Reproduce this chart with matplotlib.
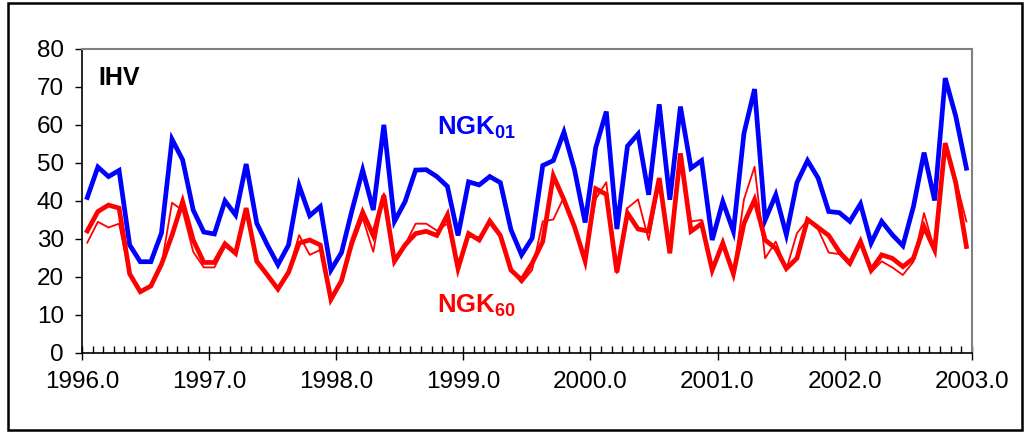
import numpy as np
import matplotlib
matplotlib.use('Agg')
import matplotlib.pyplot as plt
from matplotlib.ticker import MultipleLocator
from matplotlib.patches import Rectangle

plt.rcParams['font.family'] = 'Liberation Sans'
plt.rcParams['mathtext.fontset'] = 'custom'
plt.rcParams['mathtext.rm'] = 'Liberation Sans:bold'
plt.rcParams['mathtext.bf'] = 'Liberation Sans:bold'

# monthly values, Jan 1996 - Dec 2002
ngk01 = [40.9, 48.9, 46.4, 48.0, 28.4, 24.0, 24.0, 31.5, 56.2, 50.8, 37.6, 31.8,
         31.3, 40.0, 36.3, 49.7, 34.1, 28.4, 23.2, 28.4, 44.0, 36.1, 38.5, 21.8,
         26.4, 37.6, 48.1, 37.6, 60.0, 34.6, 39.8, 48.1, 48.2, 46.4, 43.8, 30.9,
         45.0, 44.2, 46.4, 44.8, 32.4, 25.8, 30.2, 49.3, 50.6, 58.1, 48.2, 34.3,
         54.0, 63.5, 32.6, 54.4, 57.6, 41.6, 65.4, 40.3, 64.8, 48.6, 50.6, 29.7,
         39.8, 32.0, 57.8, 69.4, 35.0, 41.6, 31.1, 44.8, 50.6, 46.0, 37.2, 36.9,
         34.6, 39.2, 28.9, 34.6, 31.1, 28.2, 38.5, 52.7, 40.1, 72.3, 62.2, 48.6]

ngk60 = [32.1, 37.2, 38.9, 38.1, 20.8, 16.1, 17.6, 23.3, 31.0, 39.8, 29.7, 23.8,
         23.8, 28.7, 26.2, 38.1, 24.1, 20.5, 16.8, 21.2, 28.9, 29.7, 28.4, 14.1,
         19.0, 29.3, 37.0, 30.9, 41.5, 24.1, 28.4, 31.4, 32.0, 30.9, 36.3, 22.2,
         31.4, 29.7, 34.7, 30.9, 21.8, 19.2, 23.6, 29.3, 46.6, 40.3, 33.2, 24.2,
         43.2, 41.7, 21.2, 36.8, 32.6, 32.0, 46.0, 26.2, 52.5, 32.0, 34.0, 21.8,
         28.9, 20.8, 34.1, 40.3, 29.7, 27.5, 22.2, 24.9, 35.1, 33.0, 30.9, 26.6,
         23.6, 29.3, 21.8, 25.8, 24.9, 22.7, 24.9, 33.2, 27.1, 55.2, 44.7, 28.0]

ngk60_thin = [29.0, 34.5, 33.0, 34.0, 20.5, 16.0, 17.5, 23.0, 39.5, 37.5, 26.6, 22.5,
              22.5, 28.0, 26.0, 38.0, 24.0, 20.5, 16.5, 21.5, 31.0, 25.8, 27.1, 13.5,
              18.5, 28.0, 35.5, 26.6, 42.0, 25.0, 28.5, 34.0, 34.0, 32.2, 34.0, 22.0,
              30.5, 30.5, 34.0, 30.5, 22.0, 18.4, 21.8, 34.6, 35.1, 41.0, 33.0, 24.5,
              40.5, 44.9, 21.0, 38.1, 40.4, 29.7, 45.0, 26.5, 51.0, 34.6, 35.0, 21.5,
              28.5, 21.0, 40.4, 49.0, 24.9, 29.3, 22.0, 31.5, 35.0, 32.5, 26.4, 26.0,
              23.0, 29.0, 21.2, 24.1, 22.5, 20.5, 24.0, 36.8, 27.0, 54.0, 45.5, 34.6]

start_year = 1996
years = [1996, 1997, 1998, 1999, 2000, 2001, 2002, 2003]
x = start_year + (np.arange(len(ngk01)) + 0.5) / 12

fig = plt.figure(figsize=(10.25, 4.32), dpi=100)
ax = fig.add_axes([0.080, 0.183, 0.868, 0.704])

ax.plot(x, ngk01, color='#0000ff', lw=3.4, solid_joinstyle='miter')
ax.plot(x, ngk60, color='#ff0000', lw=3.4, solid_joinstyle='miter')
ax.plot(x, ngk60_thin, color='#ff0000', lw=1.3)

ax.set_xlim(1996, 2003)
ax.set_ylim(0, 80)
ax.set_xticks(years)
ax.set_xticklabels([f'{y:.1f}' for y in years])
ax.xaxis.set_minor_locator(MultipleLocator(1 / 12))
ax.yaxis.set_major_locator(MultipleLocator(10))

ax.tick_params(axis='x', which='major', direction='inout', length=10, width=1,
               labelsize=17.5, pad=8)
ax.tick_params(axis='x', which='minor', direction='in', length=5, width=1)
ax.tick_params(axis='y', which='major', direction='out', length=5, width=1,
               labelsize=17.5, pad=8)

for s in ['top', 'right']:
    ax.spines[s].set_color('#808080')
    ax.spines[s].set_linewidth(1.5)
for s in ['left', 'bottom']:
    ax.spines[s].set_color('black')
    ax.spines[s].set_linewidth(1.2)

ax.text(1996.126, 70.5, 'IHV', fontsize=18, fontweight='bold', color='black')
ax.text(1998.79, 57.4, r'$\mathbf{NGK_{01}}$', fontsize=18.5, color='#0000ff')
ax.text(1998.79, 10.5, r'$\mathbf{NGK_{60}}$', fontsize=18.5, color='#ff0000')

# chart border
fig.patches.append(Rectangle((8 / 1025, 2 / 432), 1014 / 1025, 427 / 432,
                             transform=fig.transFigure, fill=False,
                             edgecolor='black', lw=1.8))

plt.savefig('out.png', dpi=100)
